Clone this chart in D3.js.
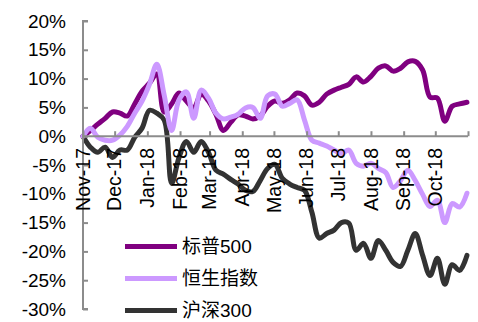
<!DOCTYPE html>
<html><head><meta charset="utf-8">
<script src="https://cdn.jsdelivr.net/npm/d3@7"></script>
<style>
html,body{margin:0;padding:0;background:#fff;}
svg{display:block;font-family:"Liberation Sans",Arial,"Noto Sans CJK SC",sans-serif;}
</style></head><body>
<svg id="chart" width="478" height="322"></svg>
<script>
const dates = ["2017-11-01","2017-11-08","2017-11-15","2017-11-22","2017-11-29","2017-12-06","2017-12-13","2017-12-20","2017-12-27",
"2018-01-03","2018-01-10","2018-01-17","2018-01-24","2018-01-31","2018-02-07","2018-02-14","2018-02-21","2018-02-28",
"2018-03-07","2018-03-14","2018-03-21","2018-03-28","2018-04-04","2018-04-11","2018-04-18","2018-04-25",
"2018-05-02","2018-05-09","2018-05-16","2018-05-23","2018-05-30","2018-06-06","2018-06-13","2018-06-20","2018-06-27",
"2018-07-04","2018-07-11","2018-07-18","2018-07-25","2018-08-01","2018-08-08","2018-08-15","2018-08-22","2018-08-29",
"2018-09-05","2018-09-12","2018-09-19","2018-09-26","2018-10-03","2018-10-10","2018-10-17","2018-10-24","2018-10-31"];

const sp500 = [0,1.0,2.1,3.1,4.2,4.0,3.5,5.6,7.8,9.2,10.8,4.2,5.6,7.5,6.1,4.9,7.3,6.1,3.8,1.0,2.4,3.7,3.5,3.0,3.5,5.2,
6.1,5.7,6.3,7.5,7.0,5.4,5.9,7.3,8.0,8.5,9.0,10.3,9.4,10.4,11.8,12.2,11.3,11.8,12.9,13.0,11.5,6.8,6.6,2.6,5.2,5.6,5.9];

const hsi = [0,1.4,-0.2,-0.7,-0.7,0.2,1.7,4.0,6.1,9.0,12.5,7.1,1.0,6.3,7.7,3.1,8.0,6.6,4.0,3.0,3.3,3.8,4.9,5.0,3.1,7.0,
7.3,5.2,5.7,6.3,2.8,-0.7,-1.2,-1.7,-2.4,-3.0,-2.4,-4.7,-5.2,-4.7,-5.6,-6.3,-8.9,-7.7,-5.9,-7.7,-10.1,-12.2,-11.1,-15.0,-11.7,-12.3,-9.9];

const hs300 = [0,-1.9,-2.8,-1.9,-3.7,-2.4,-2.4,-0.2,1.4,4.5,4.0,2.8,-8.2,-3.7,-0.9,-2.8,-0.9,-2.8,-5.9,-6.6,-7.5,-8.3,-9.4,-9.6,-7.7,-5.6,
-4.9,-7.3,-8.3,-8.9,-9.4,-13.2,-17.7,-16.9,-16.3,-15.0,-15.1,-19.8,-18.6,-21.2,-18.1,-19.8,-21.9,-22.6,-19.8,-16.9,-20.7,-24.2,-21.2,-25.7,-22.3,-23.3,-20.7];

const seriesNames = ["标普500","恒生指数","沪深300"];
const seriesColors = ["#800080","#cc99ff","#333333"];
const yTicks = [20,15,10,5,0,-5,-10,-15,-20,-25,-30];
const monthLabels = ["2017-11-01","2017-12-01","2018-01-01","2018-02-01","2018-03-01","2018-04-01","2018-05-01","2018-06-01","2018-07-01","2018-08-01","2018-09-01","2018-10-01"];
const xDomain = ["2017-11-01","2018-11-01"];

const parse = d3.utcParse("%Y-%m-%d");
const svg = d3.select("#chart");
const x = d3.scaleUtc().domain(xDomain.map(parse)).range([83, 468]);
const y = d3.scaleLinear().domain([-30, 20]).range([309, 21]);

const series = [sp500, hsi, hs300].map((vals, k) => ({
  name: seriesNames[k], color: seriesColors[k],
  pts: vals.map((v, i) => ({d: parse(dates[i]), v}))
}));

const line = d3.line().x(p => x(p.d)).y(p => y(p.v)).curve(d3.curveCatmullRom.alpha(0.5));

// draw order: black, purple, lavender
[2, 0, 1].forEach(k => {
  svg.append("path").datum(series[k].pts)
    .attr("d", line).attr("fill", "none")
    .attr("stroke", series[k].color).attr("stroke-width", 5)
    .attr("stroke-linejoin", "round").attr("stroke-linecap", "round");
});

const axisColor = "#8c8c8c";
// y axis
const yAxis = svg.append("g").attr("transform", "translate(83,0)")
  .call(d3.axisRight(y).tickValues(yTicks).tickSize(5).tickFormat(""));
yAxis.select(".domain").attr("stroke", axisColor).attr("stroke-width", 2).attr("d", `M5,${y(20)}H0V${y(-30)}H5`);
yAxis.selectAll(".tick line").attr("stroke", axisColor).attr("stroke-width", 2);

svg.append("g").selectAll("text").data(yTicks).join("text")
  .attr("x", 66).attr("y", d => y(d)).attr("dy", "0.35em")
  .attr("text-anchor", "end").attr("font-size", 19).attr("fill", "#000")
  .text(d => d + "%");

// x axis at 0
const tickDates = monthLabels.map(parse).concat([parse(xDomain[1])]);
const xAxis = svg.append("g").attr("transform", `translate(0,${y(0)})`)
  .call(d3.axisBottom(x).tickValues(tickDates).tickSize(-5).tickFormat(""));
xAxis.select(".domain").attr("stroke", axisColor).attr("stroke-width", 2).attr("d", `M83,0H468`);
xAxis.selectAll(".tick line").attr("stroke", axisColor).attr("stroke-width", 2);

const fmt = d3.utcFormat("%b-%y");
svg.append("g").selectAll("text").data(monthLabels.map(parse)).join("text")
  .attr("transform", d => `translate(${x(d)},148) rotate(-90)`)
  .attr("dy", "0.35em").attr("text-anchor", "end")
  .attr("font-size", 19.5).attr("fill", "#000")
  .text(d => fmt(d));

// legend
const lg = svg.append("g");
series.forEach((s, k) => {
  const ly = 246.5 + k * 32;
  lg.append("line").attr("x1", 125).attr("x2", 177).attr("y1", ly).attr("y2", ly)
    .attr("stroke", s.color).attr("stroke-width", 5);
  lg.append("text").attr("x", 182).attr("y", ly).attr("dy", "0.35em")
    .attr("font-size", 19).attr("fill", "#000").text(s.name);
});
</script>
</body></html>
